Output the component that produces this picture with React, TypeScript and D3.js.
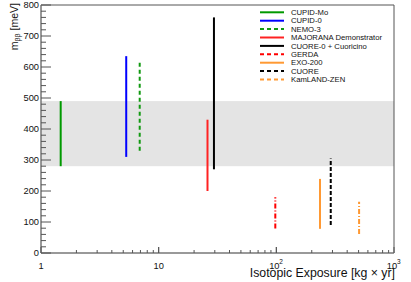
import React from 'react';
import * as d3 from 'd3';

// experiments, in legend order
const experiments = [
  'CUPID-Mo',
  'CUPID-0',
  'NEMO-3',
  'MAJORANA Demonstrator',
  'CUORE-0 + Cuoricino',
  'GERDA',
  'EXO-200',
  'CUORE',
  'KamLAND-ZEN',
];
// isotopic exposure [kg x yr]
const exposures = [1.47, 5.3, 6.9, 26, 29.5, 98, 235, 290, 505];
// m_bb limit range [meV]
const mbbLow = [280, 310, 330, 200, 270, 79, 78, 90, 61];
const mbbHigh = [490, 635, 620, 430, 760, 180, 239, 305, 165];
const colors = ['#009900', '#0000ff', '#119911', '#ff2222', '#000000', '#ff0000', '#ff9933', '#000000', '#ff9933'];
const dashes = ['', '', '4,3', '', '', '5,2,1,2', '', '4,2', '5,2,1,2'];
const legendDashes = ['', '', '4,3', '', '', '4,3', '', '4,3', '4,3'];

// CUPID-Mo band
const bandLow = 280;
const bandHigh = 490;

const yTicks = [0, 100, 200, 300, 400, 500, 600, 700, 800];
const xTickLabels = [
  { v: 1, base: '1', sup: '' },
  { v: 10, base: '10', sup: '' },
  { v: 100, base: '10', sup: '2' },
  { v: 1000, base: '10', sup: '3' },
];

const W = 411;
const H = 282;
const left = 41, right = 394, top = 5, bottom = 253;
const font = '"Liberation Sans", Arial, Helvetica, sans-serif';

export default function App() {
  const x = d3.scaleLog().domain([1, 1000]).range([left, right]);
  const y = d3.scaleLinear().domain([0, 800]).range([bottom, top]);

  const yMinor = d3.range(0, 801, 20);
  const xMinor: number[] = [];
  [1, 10, 100].forEach(dec => {
    for (let k = 1; k <= 10; k++) xMinor.push(dec * k);
  });

  const axisColor = '#555';

  return (
    <svg width={W} height={H} style={{ position: 'absolute', left: 0, top: 0 }} fontFamily={font}>
      <rect x={0} y={0} width={W} height={H} fill="#fff" />
      {/* band */}
      <rect x={left} width={right - left} y={y(bandHigh)} height={y(bandLow) - y(bandHigh)} fill="#e4e4e4" />

      {/* data */}
      {experiments.map((name, i) => (
        <line key={name} x1={x(exposures[i])} x2={x(exposures[i])} y1={y(mbbLow[i])} y2={y(mbbHigh[i])}
          stroke={colors[i]} strokeWidth={2} strokeDasharray={dashes[i] || undefined} />
      ))}

      {/* legend */}
      <g>
        {experiments.map((name, i) => {
          const ly = 12.3 + i * 8.4;
          return (
            <g key={name}>
              <line x1={260} x2={284} y1={ly} y2={ly} stroke={colors[i]} strokeWidth={2}
                strokeDasharray={legendDashes[i] || undefined} />
              <text x={291} y={ly} dy="0.35em" fontSize={7.7} fill="#111">{name}</text>
            </g>
          );
        })}
      </g>

      {/* frame */}
      <line x1={left} x2={right} y1={top} y2={top} stroke={axisColor} strokeWidth={1} />
      <line x1={right} x2={right} y1={top} y2={bottom} stroke={axisColor} strokeWidth={1} />
      <line x1={left} x2={right} y1={bottom} y2={bottom} stroke="#777" strokeWidth={1.5} />
      <line x1={left} x2={left} y1={top} y2={bottom} stroke="#777" strokeWidth={1.5} />

      {/* y ticks */}
      {yMinor.map(v => {
        const major = v % 100 === 0;
        return <line key={'y' + v} x1={left} x2={left + (major ? 10 : 5)} y1={y(v)} y2={y(v)} stroke={axisColor} strokeWidth={1} />;
      })}
      {yTicks.map(v => (
        <text key={'yl' + v} x={left - 2} y={y(v)} dy="0.36em" textAnchor="end" fontSize={9.3} fill="#111">{v}</text>
      ))}

      {/* x ticks */}
      {xMinor.map(v => {
        const major = Math.abs(Math.log10(v) - Math.round(Math.log10(v))) < 1e-9;
        return <line key={'x' + v} x1={x(v)} x2={x(v)} y1={bottom} y2={bottom - (major ? 6 : 3)} stroke={axisColor} strokeWidth={1} />;
      })}
      {xTickLabels.map(t => (
        <g key={'xl' + t.v}>
          <text x={t.sup ? x(t.v) - 2 : x(t.v)} y={268.5} textAnchor="middle" fontSize={9.3} fill="#111">{t.base}</text>
          {t.sup && <text x={x(t.v) + 3} y={264} fontSize={6.5} fill="#111">{t.sup}</text>}
        </g>
      ))}

      {/* axis titles */}
      <text x={right + 1} y={277} textAnchor="end" fontSize={12.3} fill="#111">Isotopic Exposure [kg × yr]</text>
      <text transform={`translate(17.5,${top - 2}) rotate(-90)`} textAnchor="end" fontSize={10.5} fill="#111">
        m<tspan dy={2.5} fontSize={7}>ββ</tspan><tspan dy={-2.5}> [meV]</tspan>
      </text>
    </svg>
  );
}
